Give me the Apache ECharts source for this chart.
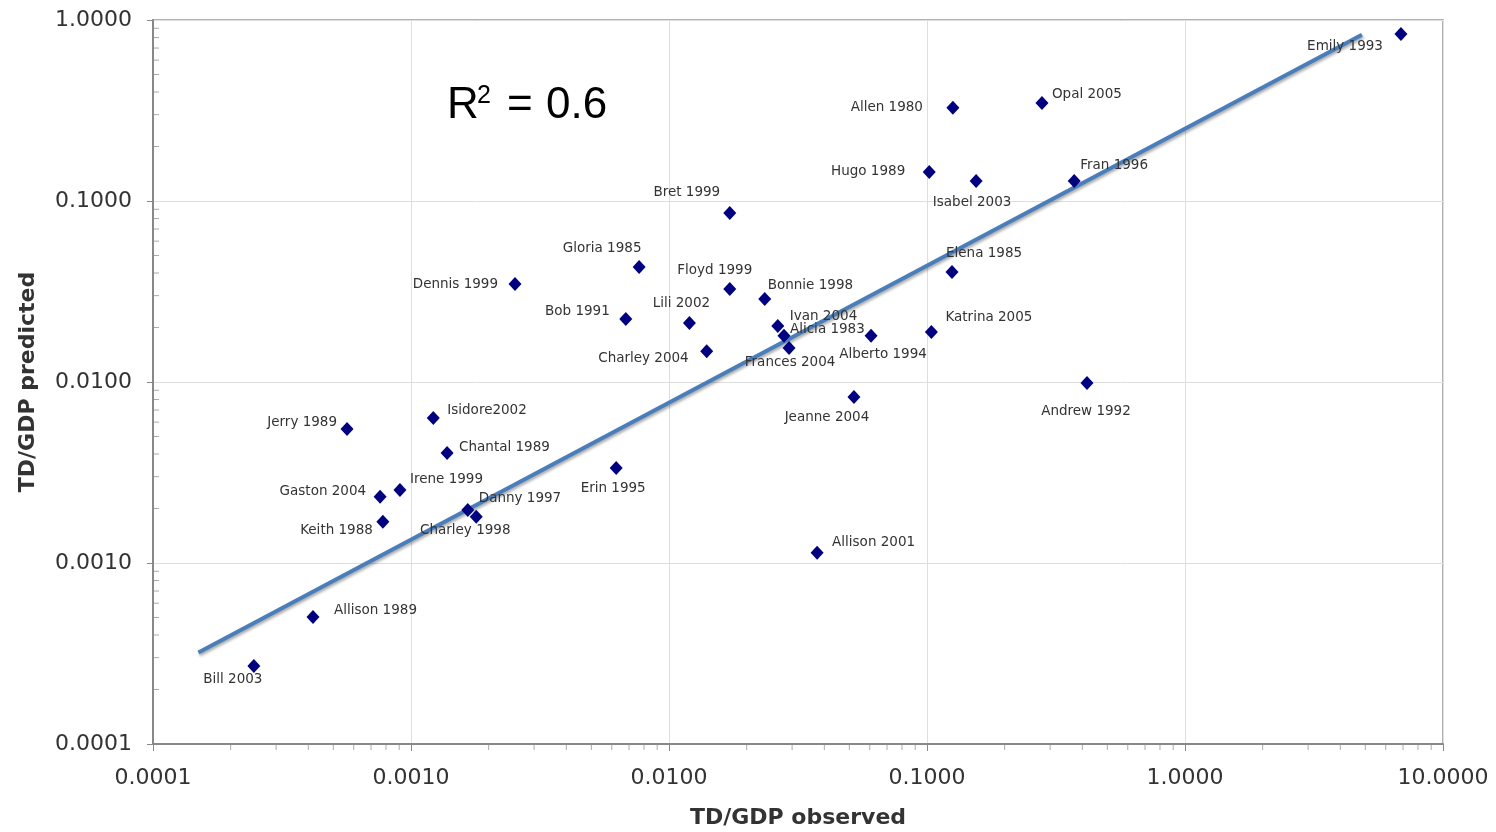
<!DOCTYPE html>
<html>
<head>
<meta charset="utf-8">
<script src="https://cdn.jsdelivr.net/npm/echarts@6/dist/echarts.min.js"></script>
<style>
html,body{margin:0;padding:0;background:#fff;}
#chart{width:1496px;height:832px;}
</style>
</head>
<body>
<div id="chart"></div>
<script>
// Hurricane names
var names = ["Emily 1993","Opal 2005","Allen 1980","Hugo 1989","Isabel 2003","Fran 1996","Bret 1999","Gloria 1985","Dennis 1999","Floyd 1999","Bonnie 1998","Bob 1991","Lili 2002","Ivan 2004","Alicia 1983","Frances 2004","Alberto 1994","Charley 2004","Elena 1985","Katrina 2005","Andrew 1992","Jeanne 2004","Isidore2002","Jerry 1989","Chantal 1989","Erin 1995","Irene 1999","Gaston 2004","Danny 1997","Charley 1998","Keith 1988","Allison 2001","Allison 1989","Bill 2003"];
// TD/GDP observed
var observed = [6.87,0.279,0.126,0.102,0.155,0.372,0.0172,0.00766,0.00253,0.0172,0.0235,0.0068,0.012,0.0264,0.0279,0.0292,0.0607,0.014,0.125,0.104,0.417,0.0521,0.00122,0.000565,0.00138,0.00624,0.000906,0.000759,0.00166,0.00179,0.000778,0.0375,0.000417,0.000246];
// TD/GDP predicted
var predicted = [0.837,0.348,0.327,0.1446,0.129,0.129,0.0859,0.0432,0.0348,0.0326,0.0287,0.0223,0.0212,0.0204,0.018,0.0154,0.018,0.0148,0.0405,0.0189,0.00987,0.00826,0.00633,0.0055,0.00405,0.00335,0.00253,0.00232,0.00196,0.0018,0.00169,0.00114,0.000503,0.00027];
// regression line end points [observed, predicted]
var trendX = [0.00015, 4.85];
var trendY = [0.00032, 0.83];
// axis tick labels
var xTicks = ["0.0001","0.0010","0.0100","0.1000","1.0000","10.0000"];
var yTicks = ["0.0001","0.0010","0.0100","0.1000","1.0000"];
var minorMult = [2,3,4,5,6,7,8,9];
var rSquared = "0.6";

// label placement (style): [align, dx, dy]
var labelPlace = [
 ["right",-18,13],["left",10,-8],["right",-30,0],["right",-24,-1],["center",-4,22],["left",6,-15],
 ["center",-43,-20],["center",-37,-18],["right",-17,1],["center",-15,-19],["left",3,-14],["right",-16,-7],
 ["center",-8,-19],["left",12,-9],["left",6,-6],["center",1,14],["center",12,19],["right",-18,7],
 ["left",-6,-19],["left",14,-14],["center",-1,28],["center",-27,20],["left",14,-7],["right",-10,-6],
 ["left",12,-6],["center",-3,21],["left",10,-11],["right",-14,-5],["left",11,-12],["center",-11,14],
 ["right",-10,9],["left",15,-10],["left",21,-7],["center",-21,14]
];

var points = names.map(function(n,i){
  var lp = labelPlace[i];
  return {
    name: n,
    value: [observed[i], predicted[i]],
    label: {show:true, position:'inside', align: lp[0], verticalAlign:'middle', offset:[lp[1], lp[2]], formatter: n}
  };
});

var xMinor = [], yMinor = [];
for (var d = -4; d < 1; d++) {
  minorMult.forEach(function(m){
    var v = m * Math.pow(10, d);
    xMinor.push([v, 0.0001]);
    if (d < 0) yMinor.push([0.0001, v]);
  });
}

var chart = echarts.init(document.getElementById('chart'));
var axisFont = {fontFamily:'DejaVu Sans', fontSize:22, color:'#333'};
chart.setOption({
  animation:false,
  backgroundColor:'#fff',
  grid:{left:153, right:53, top:20, bottom:88, show:true, borderColor:'#999', borderWidth:1.5, outerBoundsMode:'none', containLabel:false},
  xAxis:{
    type:'log', logBase:10, min:0.0001, max:10,
    name:'TD/GDP observed', nameLocation:'middle', nameGap:63,
    nameTextStyle:{fontFamily:'DejaVu Sans', fontWeight:'bold', fontSize:22, color:'#333'},
    axisLine:{show:true, lineStyle:{color:'#888', width:2}},
    axisTick:{show:true, length:7, lineStyle:{color:'#888'}},
    axisLabel:Object.assign({margin:23, formatter:function(v){var i=Math.round(Math.log10(v))+4; return xTicks[i];}}, axisFont),
    splitLine:{show:true, lineStyle:{color:'#dedede', width:1}}
  },
  yAxis:{
    type:'log', logBase:10, min:0.0001, max:1,
    name:'TD/GDP predicted', nameLocation:'middle', nameGap:114,
    nameTextStyle:{fontFamily:'DejaVu Sans', fontWeight:'bold', fontSize:22, color:'#333'},
    axisLine:{show:true, lineStyle:{color:'#888', width:2}},
    axisTick:{show:true, length:6, lineStyle:{color:'#888'}},
    axisLabel:Object.assign({margin:21, formatter:function(v){var i=Math.round(Math.log10(v))+4; return yTicks[i];}}, axisFont),
    splitLine:{show:true, lineStyle:{color:'#dedede', width:1}}
  },
  series:[
    {
      type:'custom', silent:true, clip:false, z:3,
      data:xMinor,
      renderItem:function(params, api){
        var p = api.coord([api.value(0), api.value(1)]);
        return {type:'line', shape:{x1:p[0], y1:p[1]+1, x2:p[0], y2:p[1]+6}, style:{stroke:'#aaa', lineWidth:1}};
      }
    },
    {
      type:'custom', silent:true, clip:false, z:3,
      data:yMinor,
      renderItem:function(params, api){
        var p = api.coord([api.value(0), api.value(1)]);
        return {type:'line', shape:{x1:p[0]+1, y1:p[1], x2:p[0]+6, y2:p[1]}, style:{stroke:'#aaa', lineWidth:1}};
      }
    },
    {
      type:'line', z:4, symbol:'none',
      data:[[trendX[0], trendY[0]],[trendX[1], trendY[1]]],
      lineStyle:{color:'#4a7ebb', width:4, shadowColor:'rgba(0,0,0,0.35)', shadowBlur:3, shadowOffsetX:1, shadowOffsetY:2}
    },
    {
      type:'scatter', z:5,
      symbol:'diamond', symbolSize:[13,14],
      itemStyle:{color:'#000080', opacity:1},
      label:{fontFamily:'DejaVu Sans', fontSize:13.5, color:'#333'},
      data:points
    }
  ],
  graphic:[
    {type:'text', left:447, top:84, z:10, style:{text:'R', font:'44px "Liberation Sans"', fill:'#000'}},
    {type:'text', left:477, top:84, z:10, style:{text:'2', font:'25px "Liberation Sans"', fill:'#000'}},
    {type:'text', left:507, top:84, z:10, style:{text:'=', font:'44px "Liberation Sans"', fill:'#000'}},
    {type:'text', left:546, top:84, z:10, style:{text:rSquared, font:'44px "Liberation Sans"', fill:'#000'}}
  ]
});
</script>
</body>
</html>
